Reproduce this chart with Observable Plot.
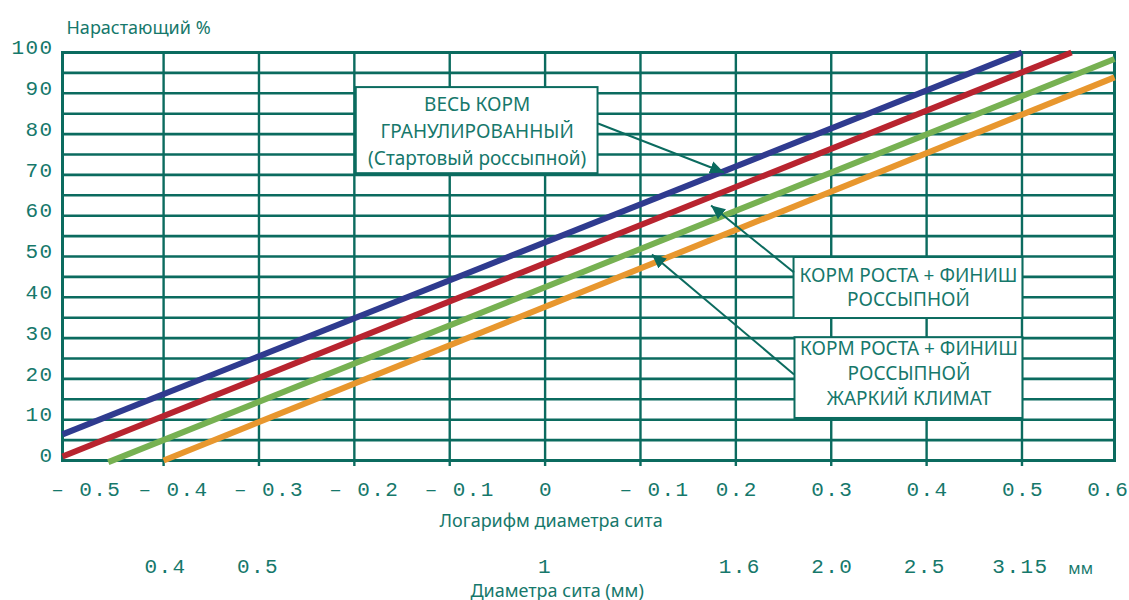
<!DOCTYPE html>
<html>
<head>
<meta charset="utf-8">
<script src="https://cdn.jsdelivr.net/npm/d3@7"></script>
<script src="https://cdn.jsdelivr.net/npm/@observablehq/plot@0.6"></script>
<style>
  body { margin: 0; background: #fff; }
  g[font-family="Liberation Mono"] text { letter-spacing: 1.4px; }
</style>
</head>
<body>
<div id="chart"></div>
<script>
// ---- data ----
const titleText = "Нарастающий %";
const xAxisTitle = "Логарифм диаметра сита";
const mmAxisTitle = "Диаметра сита (мм)";
const mmUnit = "мм";

const yTicks = [0, 10, 20, 30, 40, 50, 60, 70, 80, 90, 100];
const yGrid = [5, 10, 15, 20, 25, 30, 35, 40, 45, 50, 55, 60, 65, 70, 75, 80, 85, 90, 95];
const xGrid = [-0.4, -0.3, -0.2, -0.1, 0, 0.1, 0.2, 0.3, 0.4, 0.5];
const xTickValues = [-0.5, -0.4, -0.3, -0.2, -0.1, 0, 0.1, 0.2, 0.3, 0.4, 0.5, 0.6];
const xTickLabels = ["– 0.5", "– 0.4", "– 0.3", "– 0.2", "– 0.1", "0", "– 0.1", "0.2", "0.3", "0.4", "0.5", "0.6"];
const mmValues = [0.4, 0.5, 1, 1.6, 2.0, 2.5, 3.15];
const mmLabels = ["0.4", "0.5", "1", "1.6", "2.0", "2.5", "3.15"];

const seriesNames = ["Весь корм гранулированный", "Корм роста + финиш россыпной", "Корм роста + финиш россыпной (зелёная)", "Корм роста + финиш россыпной, жаркий климат"];
const seriesColors = ["#2f3b8f", "#b8242f", "#77b152", "#e8972e"];
const seriesX1 = [-0.506, -0.506, -0.458, -0.4];
const seriesY1 = [6.4, 1.0, -0.4, 0];
const seriesX2 = [0.5, 0.552, 0.597, 0.597];
const seriesY2 = [100, 100, 98.4, 93.9];

const boxLabels = [
  "ВЕСЬ КОРМ\nГРАНУЛИРОВАННЫЙ\n(Стартовый россыпной)",
  "КОРМ РОСТА + ФИНИШ\nРОССЫПНОЙ",
  "КОРМ РОСТА + ФИНИШ\nРОССЫПНОЙ\nЖАРКИЙ КЛИМАТ"
];
const boxX1 = [-0.198, 0.261, 0.262];
const boxX2 = [0.0555, 0.501, 0.501];
const boxY1 = [70.3, 34.8, 10.3];
const boxY2 = [91.4, 49.75, 30.1];

const arrowX1 = [0.0555, 0.261, 0.261];
const arrowY1 = [82.6, 46.1, 21.1];
const arrowX2 = [0.1876, 0.174, 0.112];
const arrowY2 = [70.6, 62.5, 50.5];

// ---- tables ----
const series = seriesNames.map((n, i) => ({name: n, color: seriesColors[i], x1: seriesX1[i], y1: seriesY1[i], x2: seriesX2[i], y2: seriesY2[i]}));
const boxes = boxLabels.map((t, i) => ({text: t, x1: boxX1[i], x2: boxX2[i], y1: boxY1[i], y2: boxY2[i], cx: (boxX1[i] + boxX2[i]) / 2, cy: (boxY1[i] + boxY2[i]) / 2}));
const arrows = arrowX1.map((d, i) => ({x1: arrowX1[i], y1: arrowY1[i], x2: arrowX2[i], y2: arrowY2[i]}));
const xTicks = xTickValues.map((v, i) => ({v, label: xTickLabels[i]}));
const mmTicks = mmValues.map((v, i) => ({v: Math.log10(v), label: mmLabels[i]}));

const teal = "#0b6b5f";
const textTeal = "#16786b";
const mono = "Liberation Mono";
const sans = "Noto Sans";
const monoSize = 21;
const tickDy = 35;
const mmDy = 112;

const headMarker = (color) => {
  const m = d3.create("svg:marker")
    .attr("viewBox", "-10 -5 10 10")
    .attr("markerWidth", 7)
    .attr("markerHeight", 7)
    .attr("orient", "auto")
    .attr("fill", color)
    .attr("stroke", "none");
  m.append("path").attr("d", "M0,0L-10,-4.6L-10,4.6Z");
  return m.node();
};

const chart = Plot.plot({
  width: 1129,
  height: 600,
  marginTop: 52,
  marginLeft: 62,
  marginRight: 15,
  marginBottom: 140,
  x: {domain: [-0.506, 0.597], axis: null},
  y: {domain: [0, 100], axis: null},
  color: {type: "identity"},
  marks: [
    Plot.ruleY(yGrid, {stroke: teal, strokeWidth: 2.6}),
    Plot.ruleX(xGrid, {stroke: teal, strokeWidth: 2.4, insetBottom: -6}),
    Plot.frame({stroke: teal, strokeWidth: 3}),
    Plot.link(series, {x1: "x1", y1: "y1", x2: "x2", y2: "y2", stroke: "color", strokeWidth: 6, strokeLinecap: "butt"}),
    Plot.rect(boxes, {x1: "x1", x2: "x2", y1: "y1", y2: "y2", fill: "white", stroke: teal, strokeWidth: 2}),
    Plot.link(arrows, {x1: "x1", y1: "y1", x2: "x2", y2: "y2", stroke: teal, strokeWidth: 2, markerEnd: headMarker}),
    Plot.text(boxes.slice(0, 1), {x: "cx", y: "cy", text: "text", fill: textTeal, fontFamily: sans, fontSize: 19, lineHeight: 1.42, dy: -1}),
    Plot.text(boxes.slice(1, 2), {x: "cx", y: "cy", text: "text", fill: textTeal, fontFamily: sans, fontSize: 19, lineHeight: 1.28, dy: -2}),
    Plot.text(boxes.slice(2), {x: "cx", y: "cy", text: "text", fill: textTeal, fontFamily: sans, fontSize: 19, lineHeight: 1.3, dy: -6}),
    // y tick labels
    Plot.text(yTicks, {y: d => d, text: d => String(d), frameAnchor: "left", dx: -9, dy: -5, textAnchor: "end", fill: textTeal, fontFamily: mono, fontSize: monoSize}),
    // x tick labels
    Plot.text(xTicks.slice(0, 1), {x: "v", text: "label", frameAnchor: "bottom", dy: tickDy, dx: -17, textAnchor: "start", fill: textTeal, fontFamily: mono, fontSize: monoSize}),
    Plot.text(xTicks.slice(1, 5), {x: "v", text: "label", frameAnchor: "bottom", dy: tickDy, dx: 10, fill: textTeal, fontFamily: mono, fontSize: monoSize}),
    Plot.text(xTicks.slice(5, 6), {x: "v", text: "label", frameAnchor: "bottom", dy: tickDy, dx: 1, fill: textTeal, fontFamily: mono, fontSize: monoSize}),
    Plot.text(xTicks.slice(6, 7), {x: "v", text: "label", frameAnchor: "bottom", dy: tickDy, dx: 14, fill: textTeal, fontFamily: mono, fontSize: monoSize}),
    Plot.text(xTicks.slice(7, 11), {x: "v", text: "label", frameAnchor: "bottom", dy: tickDy, dx: 1, fill: textTeal, fontFamily: mono, fontSize: monoSize}),
    Plot.text(xTicks.slice(11), {x: "v", text: "label", frameAnchor: "bottom", dy: tickDy, dx: 12, textAnchor: "end", fill: textTeal, fontFamily: mono, fontSize: monoSize}),
    // mm labels
    Plot.text(mmTicks, {x: "v", text: "label", frameAnchor: "bottom", dy: mmDy, fill: textTeal, fontFamily: mono, fontSize: monoSize}),
    Plot.text([mmUnit], {x: Math.log10(3.15), text: d => d, frameAnchor: "bottom", dy: mmDy + 1, dx: 48, textAnchor: "start", fill: textTeal, fontFamily: sans, fontSize: 16}),
    // titles
    Plot.text([titleText], {text: d => d, frameAnchor: "top-left", dx: 4, dy: -31, textAnchor: "start", fill: textTeal, fontFamily: sans, fontSize: 18}),
    Plot.text([xAxisTitle], {x: 0, text: d => d, frameAnchor: "bottom", dy: 66, dx: 6, fill: textTeal, fontFamily: sans, fontSize: 18}),
    Plot.text([mmAxisTitle], {x: 0, text: d => d, frameAnchor: "bottom", dy: 136, dx: 12, fill: textTeal, fontFamily: sans, fontSize: 18})
  ]
});
document.getElementById("chart").appendChild(chart);
</script>
</body>
</html>
